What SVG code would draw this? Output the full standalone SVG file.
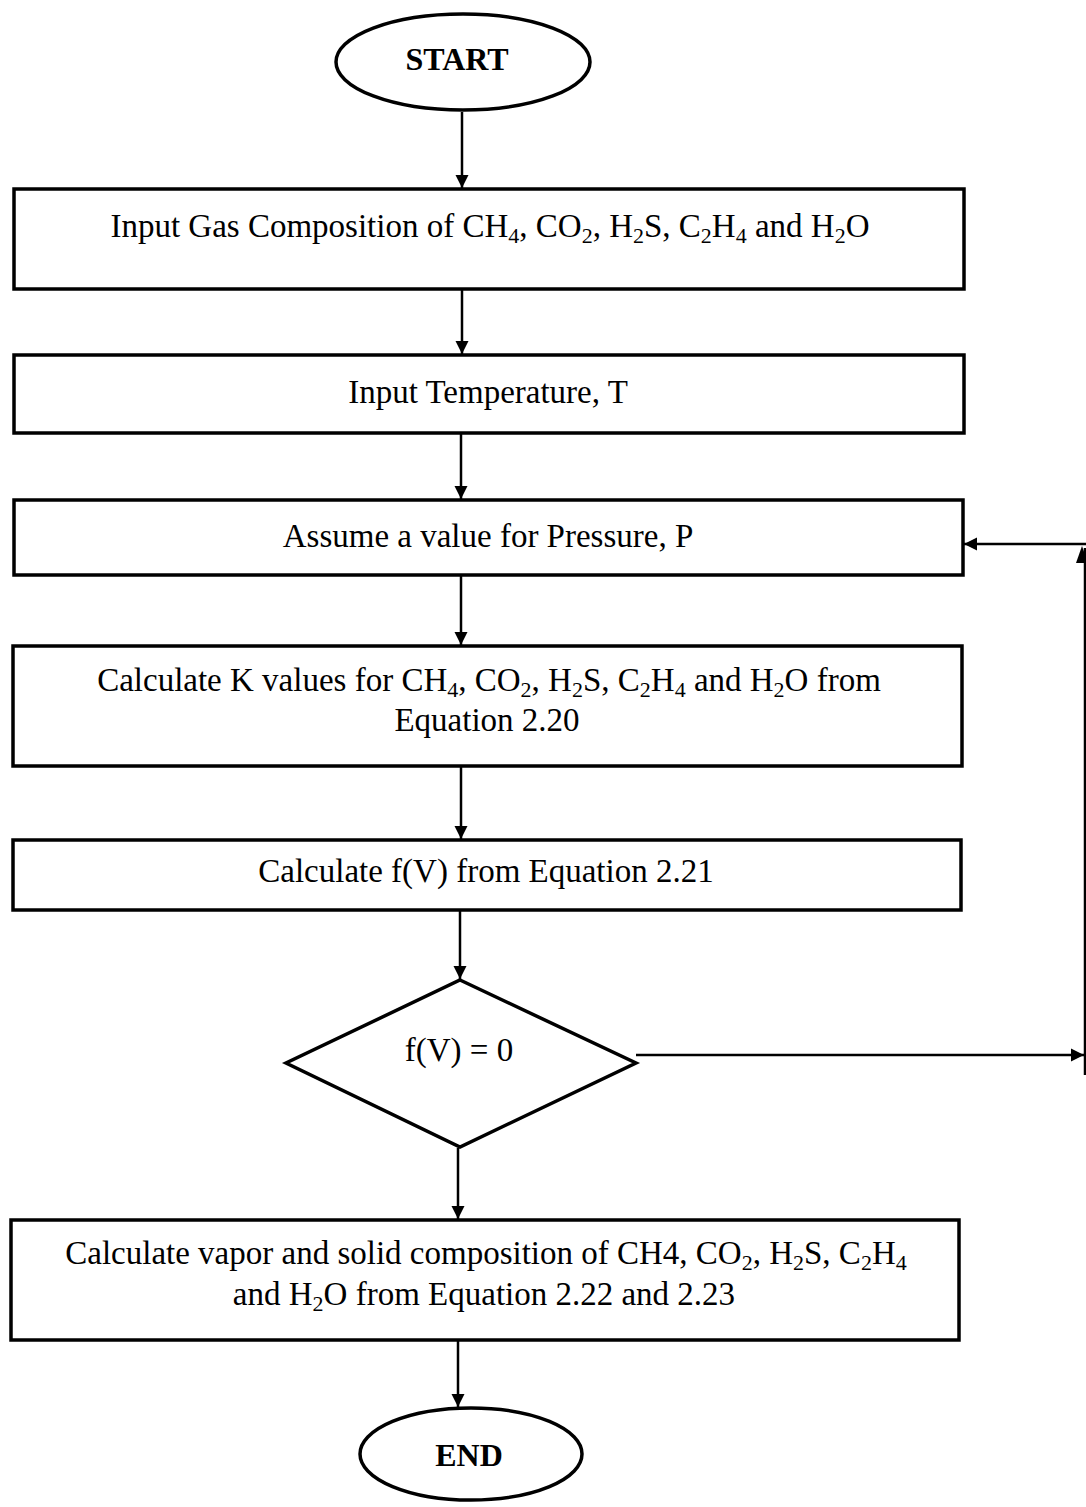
<svg xmlns="http://www.w3.org/2000/svg" width="1086" height="1507" viewBox="0 0 1086 1507">
<defs>
<marker id="ah" viewBox="0 0 10 10" refX="10" refY="5" markerWidth="5.2" markerHeight="5.4" orient="auto" markerUnits="strokeWidth">
<path d="M0,0 L10,5 L0,10 z" fill="#000"/>
</marker>
<style>
.s{fill:#fff;stroke:#000;stroke-width:3.5}
.t{font-family:"Liberation Serif","Times New Roman",serif;font-size:33px;fill:#000;text-anchor:middle}
.b{font-weight:bold;font-size:32px}
.c{stroke:#000;stroke-width:2.5;fill:none}
.sub{font-size:22px}
</style>
</defs>
<rect width="1086" height="1507" fill="#fff"/>
<g id="connectors">
<line class="c" x1="462" y1="112" x2="462" y2="188" marker-end="url(#ah)"/>
<line class="c" x1="462" y1="290" x2="462" y2="354" marker-end="url(#ah)"/>
<line class="c" x1="461" y1="434" x2="461" y2="499" marker-end="url(#ah)"/>
<line class="c" x1="461" y1="576" x2="461" y2="645" marker-end="url(#ah)"/>
<line class="c" x1="461" y1="767" x2="461" y2="839" marker-end="url(#ah)"/>
<line class="c" x1="460" y1="911" x2="460" y2="979" marker-end="url(#ah)"/>
<line class="c" x1="458" y1="1148" x2="458" y2="1219" marker-end="url(#ah)"/>
<line class="c" x1="458" y1="1341" x2="458" y2="1407" marker-end="url(#ah)"/>
<line class="c" x1="636" y1="1055" x2="1084" y2="1055" marker-end="url(#ah)"/>
<line class="c" x1="1085" y1="1075" x2="1085" y2="548"/>
<path d="M1076,563 L1082,546 L1088,563 z" fill="#000"/>
<line class="c" x1="1086" y1="544" x2="964" y2="544" marker-end="url(#ah)"/>
</g>
<g id="start">
<ellipse class="s" cx="463" cy="62" rx="127" ry="48"/>
<text class="t b" x="457" y="70">START</text>
</g>
<g id="input-gas">
<rect class="s" x="14" y="189" width="950" height="100"/>
<text class="t" x="490" y="237">Input Gas Composition of CH<tspan class="sub" dy="6">4</tspan><tspan dy="-6">, CO</tspan><tspan class="sub" dy="6">2</tspan><tspan dy="-6">, H</tspan><tspan class="sub" dy="6">2</tspan><tspan dy="-6">S, C</tspan><tspan class="sub" dy="6">2</tspan><tspan dy="-6">H</tspan><tspan class="sub" dy="6">4</tspan><tspan dy="-6"> and H</tspan><tspan class="sub" dy="6">2</tspan><tspan dy="-6">O</tspan></text>
</g>
<g id="input-temp">
<rect class="s" x="14" y="355" width="950" height="78"/>
<text class="t" x="488" y="403">Input Temperature, T</text>
</g>
<g id="assume-p">
<rect class="s" x="14" y="500" width="949" height="75"/>
<text class="t" x="488" y="547">Assume a value for Pressure, P</text>
</g>
<g id="calc-k">
<rect class="s" x="13" y="646" width="949" height="120"/>
<text class="t" x="489" y="691">Calculate K values for CH<tspan class="sub" dy="6">4</tspan><tspan dy="-6">, CO</tspan><tspan class="sub" dy="6">2</tspan><tspan dy="-6">, H</tspan><tspan class="sub" dy="6">2</tspan><tspan dy="-6">S, C</tspan><tspan class="sub" dy="6">2</tspan><tspan dy="-6">H</tspan><tspan class="sub" dy="6">4</tspan><tspan dy="-6"> and H</tspan><tspan class="sub" dy="6">2</tspan><tspan dy="-6">O from</tspan></text>
<text class="t" x="487" y="731">Equation 2.20</text>
</g>
<g id="calc-fv">
<rect class="s" x="13" y="840" width="948" height="70"/>
<text class="t" x="486" y="882">Calculate f(V) from Equation 2.21</text>
</g>
<g id="decision">
<polygon class="s" points="460,980 636,1063 460,1147 286,1063"/>
<text class="t" x="459" y="1061">f(V) = 0</text>
</g>
<g id="calc-comp">
<rect class="s" x="11" y="1220" width="948" height="120"/>
<text class="t" x="486" y="1264">Calculate vapor and solid composition of CH4, CO<tspan class="sub" dy="6">2</tspan><tspan dy="-6">, H</tspan><tspan class="sub" dy="6">2</tspan><tspan dy="-6">S, C</tspan><tspan class="sub" dy="6">2</tspan><tspan dy="-6">H</tspan><tspan class="sub" dy="6">4</tspan></text>
<text class="t" x="484" y="1305">and H<tspan class="sub" dy="6">2</tspan><tspan dy="-6">O from Equation 2.22 and 2.23</tspan></text>
</g>
<g id="end">
<ellipse class="s" cx="471" cy="1454" rx="111" ry="46"/>
<text class="t b" x="469" y="1466">END</text>
</g>
</svg>
